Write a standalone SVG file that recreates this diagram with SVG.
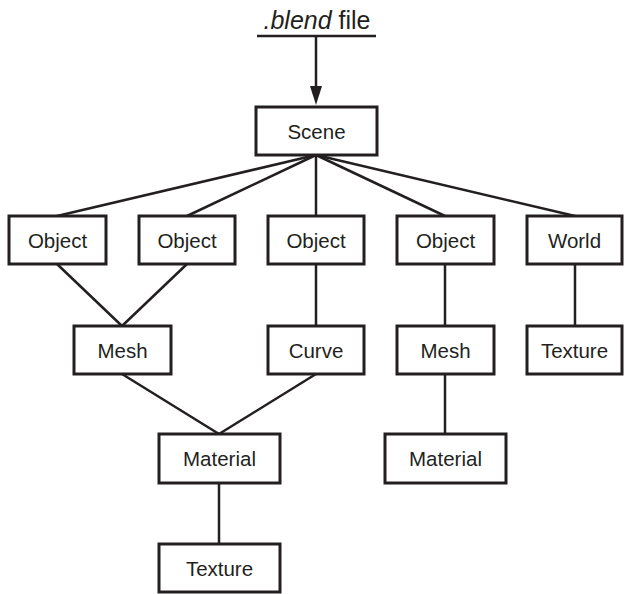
<svg xmlns="http://www.w3.org/2000/svg" width="625" height="594" viewBox="0 0 625 594">
<style>
  .box rect { fill: #fff; stroke: #231f20; stroke-width: 3; }
  .box text { font-family: "Liberation Sans", Arial, sans-serif; font-size: 20.5px; fill: #231f20; text-anchor: middle; }
  .conn line { stroke: #231f20; stroke-width: 2.5; }
  .title { font-family: "Liberation Sans", Arial, sans-serif; font-size: 25px; fill: #231f20; }
</style>
<rect width="625" height="594" fill="#fff"/>
<g id="title">
  <text class="title" x="317" y="29" text-anchor="middle"><tspan font-style="italic">.blend</tspan> file</text>
</g>
<g id="connectors" class="conn">
  <line x1="257" y1="36" x2="376" y2="36"/>
  <line x1="316" y1="36" x2="316" y2="88"/>
  <polygon points="310,86 322,86 316,105" fill="#231f20"/>
  <line x1="316" y1="155" x2="57" y2="216"/>
  <line x1="316" y1="155" x2="187" y2="216"/>
  <line x1="316" y1="155" x2="316" y2="216"/>
  <line x1="316" y1="155" x2="445" y2="216"/>
  <line x1="316" y1="155" x2="575" y2="216"/>
  <line x1="57" y1="264" x2="122" y2="326"/>
  <line x1="187" y1="264" x2="122" y2="326"/>
  <line x1="316" y1="264" x2="316" y2="326"/>
  <line x1="445" y1="264" x2="445" y2="326"/>
  <line x1="575" y1="264" x2="575" y2="326"/>
  <line x1="122" y1="374" x2="219" y2="434"/>
  <line x1="316" y1="374" x2="219" y2="434"/>
  <line x1="445" y1="374" x2="445" y2="434"/>
  <line x1="219" y1="483" x2="219" y2="544"/>
</g>
<g id="scene" class="box"><rect x="256" y="107" width="121" height="48"/><text x="316.5" y="138.5">Scene</text></g>
<g id="object1" class="box"><rect x="9" y="216" width="97" height="48"/><text x="57.5" y="247.5">Object</text></g>
<g id="object2" class="box"><rect x="139" y="216" width="96" height="48"/><text x="187" y="247.5">Object</text></g>
<g id="object3" class="box"><rect x="268" y="216" width="96" height="48"/><text x="316" y="247.5">Object</text></g>
<g id="object4" class="box"><rect x="397" y="216" width="97" height="48"/><text x="445.5" y="247.5">Object</text></g>
<g id="world" class="box"><rect x="527" y="216" width="95" height="48"/><text x="574.5" y="247.5">World</text></g>
<g id="mesh1" class="box"><rect x="74" y="326" width="97" height="48"/><text x="122.5" y="357.5">Mesh</text></g>
<g id="curve" class="box"><rect x="268" y="326" width="96" height="48"/><text x="316" y="357.5">Curve</text></g>
<g id="mesh2" class="box"><rect x="397" y="326" width="97" height="48"/><text x="445.5" y="357.5">Mesh</text></g>
<g id="texture2" class="box"><rect x="527" y="326" width="95" height="48"/><text x="574.5" y="357.5">Texture</text></g>
<g id="material1" class="box"><rect x="159" y="434" width="121" height="49"/><text x="219.5" y="465.5">Material</text></g>
<g id="material2" class="box"><rect x="385" y="434" width="121" height="49"/><text x="445.5" y="465.5">Material</text></g>
<g id="texture1" class="box"><rect x="159" y="544" width="121" height="48"/><text x="219.5" y="575.5">Texture</text></g>
</svg>
